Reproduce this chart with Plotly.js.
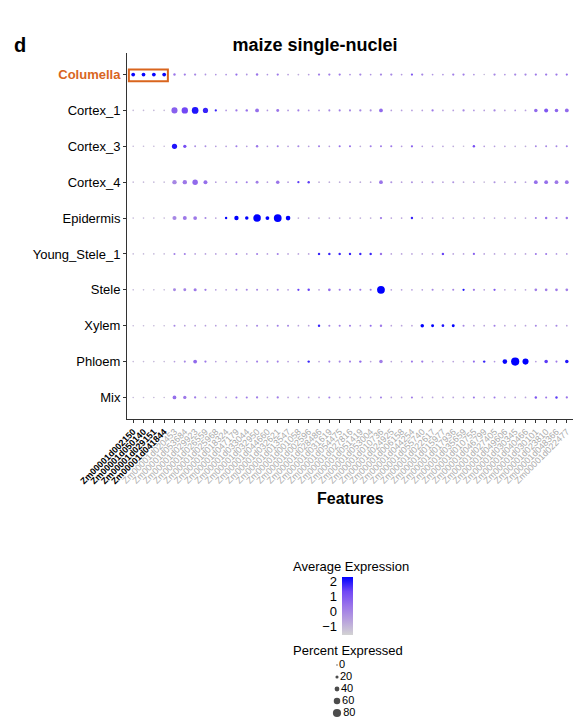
<!DOCTYPE html>
<html>
<head>
<meta charset="utf-8">
<script src="https://cdn.plot.ly/plotly-3.0.1.min.js"></script>
<style>html,body{margin:0;padding:0;background:#fff}#chart{width:575px;height:718px}</style>
</head>
<body>
<div id="chart"></div>
<script>
// ---------------- DATA ----------------
const genes = [
  "Zm00001d002150","Zm00001d050140","Zm00001d029151","Zm00001d041844",
  "Zm00001d020453","Zm00001d053684","Zm00001d029923","Zm00001d026559","Zm00001d025968",
  "Zm00001d018324","Zm00001d047179","Zm00001d033044","Zm00001d032950","Zm00001d044660",
  "Zm00001d032621","Zm00001d013547","Zm00001d001058","Zm00001d002596","Zm00001d028486",
  "Zm00001d031619","Zm00001d054475","Zm00001d027816","Zm00001d051419","Zm00001d053004",
  "Zm00001d010736","Zm00001d024925","Zm00001d006158","Zm00001d044254","Zm00001d055740",
  "Zm00001d022617","Zm00001d015977","Zm00001d017936","Zm00001d035659","Zm00001d010755",
  "Zm00001d046799","Zm00001d027405","Zm00001d049606","Zm00001d030345","Zm00001d040466",
  "Zm00001d030101","Zm00001d023810","Zm00001d048366","Zm00001d022477"
];
const highlightGenes = ["Zm00001d002150","Zm00001d050140","Zm00001d029151","Zm00001d041844"];
const clusters = ["Columella","Cortex_1","Cortex_3","Cortex_4","Epidermis","Young_Stele_1","Stele","Xylem","Phloem","Mix"];
const highlightCluster = "Columella";

// Percent expressed per cluster (one value per gene, in order)
const pct_Columella = [28,28,28,28,12,10,10,5,4,4, 10,5,12,4,10,4,4,4,10,10, 10,4,10,4,10,10,4,10,10,4, 4,10,10,4,3,10,4,10,10,10, 10,10,10];
const pct_Cortex_1 = [3,3,3,3,55,58,62,45,10,4, 10,12,28,4,18,4,8,4,4,8, 8,8,10,8,28,4,4,4,4,10, 4,4,10,4,4,10,4,4,4,25, 30,25,28];
const pct_Cortex_3 = [3,3,3,3,45,22,6,6,4,4, 8,4,12,4,8,4,8,4,8,4, 8,8,4,8,8,8,4,10,4,4, 4,4,3,12,4,4,4,4,4,6, 6,6,8];
const pct_Cortex_4 = [3,3,3,3,35,35,48,30,4,4, 8,8,18,4,25,4,10,12,4,4, 4,4,4,4,28,8,4,8,4,8, 4,8,4,4,3,8,4,8,4,28, 28,28,28];
const pct_Epidermis = [3,3,3,3,32,30,28,8,4,12, 35,25,72,28,75,38,4,4,4,4, 4,4,4,4,10,4,4,12,4,4, 4,4,4,4,4,4,4,4,4,8, 12,8,12];
const pct_Young_Stele_1 = [3,3,3,3,8,8,4,4,4,4, 8,4,8,4,8,4,4,4,12,12, 12,12,12,12,12,4,4,4,4,4, 12,4,4,10,4,4,4,4,4,8, 8,4,4];
const pct_Stele = [3,3,3,3,18,18,20,10,4,4, 8,8,8,4,8,4,10,12,4,15, 8,8,8,8,75,4,4,4,4,8, 4,8,10,10,4,10,4,4,4,15, 15,15,15];
const pct_Xylem = [3,3,3,3,8,4,4,4,4,4, 4,4,8,4,8,8,4,4,12,8, 8,8,4,8,12,4,4,4,25,18, 15,18,8,4,4,8,4,4,4,8, 4,8,4];
const pct_Phloem = [3,3,3,3,4,8,28,10,4,4, 4,4,8,8,8,4,4,12,4,8, 8,8,12,4,25,4,4,8,10,4, 4,4,4,8,12,4,38,80,55,4, 25,8,25];
const pct_Mix = [3,3,3,3,28,22,10,4,4,4, 8,8,10,4,10,4,4,4,4,8, 4,4,4,4,8,4,4,8,4,4, 4,4,4,8,4,8,4,4,4,12, 8,12,10];

// Average (scaled) expression per cluster
const avg_Columella = [2.2,2.2,2.2,2.2,0.3,0.2,0.0,-0.3,-0.3,-0.2, 0.5,-0.3,0.4,-0.3,0.3,-0.5,-0.8,-0.5,0.2,0.2, 0.3,-0.2,0.0,-0.3,0.0,0.0,-0.4,1.0,0.0,-0.3, -0.3,0.2,0.2,-0.3,-1.0,0.0,-0.3,0.0,0.0,0.3, 0.3,0.3,0.5];
const avg_Cortex_1 = [-1.0,-1.0,-1.0,-1.0,0.8,1.3,2.0,1.8,1.8,-0.3, 0.3,0.5,0.5,-0.3,0.4,-0.3,0.2,-0.3,-0.3,0.0, 0.2,0.0,0.0,-0.2,0.6,-0.5,-0.5,-0.5,-0.5,0.3, -0.5,-0.5,0.0,-0.3,-0.5,0.0,-0.5,-0.3,-0.5,0.6, 1.0,0.7,0.6];
const avg_Cortex_3 = [-1.0,-1.0,-1.0,-1.0,2.0,1.2,-0.2,-0.2,-0.5,-0.5, 0.2,-0.5,0.4,-0.5,0.2,-0.5,0.0,-0.5,0.2,-0.5, 0.5,0.5,-0.8,0.2,0.2,0.3,-0.5,0.8,-0.5,-0.5, -0.6,-0.8,-1.0,1.2,-0.5,-0.5,-0.6,-0.8,-0.8,0.0, 0.0,0.0,0.2];
const avg_Cortex_4 = [-1.0,-1.0,-1.0,-1.0,0.0,0.3,0.6,0.5,-0.5,-0.5, 0.2,0.2,0.2,-0.5,0.4,-0.5,1.5,1.5,-0.8,-0.8, -0.8,-0.6,-0.8,-0.6,0.4,-0.3,-0.6,-0.3,-0.6,-0.3, -0.6,-0.3,-0.8,-0.6,-1.0,-0.3,-0.6,-0.3,-0.6,0.5, 0.5,0.3,0.4];
const avg_Epidermis = [-1.0,-1.0,-1.0,-1.0,0.0,0.3,0.3,0.0,-0.6,2.2, 2.3,2.3,2.3,2.3,2.3,2.3,-0.8,-0.8,-0.8,-0.8, -0.8,-0.8,-0.8,-0.8,0.3,-0.6,-0.6,1.8,-0.7,-0.7, -0.7,-0.7,-0.7,-0.7,-0.7,-0.7,-0.7,-0.7,-0.7,0.2, 0.5,0.2,0.4];
const avg_Young_Stele_1 = [-1.0,-1.0,-1.0,-1.0,0.2,0.2,-0.5,-0.5,-0.5,-0.5, 0.2,-0.5,0.2,-0.5,0.2,-0.6,-0.6,-0.6,1.8,1.8, 1.8,1.8,1.8,1.8,0.4,-0.6,-0.6,-0.6,-0.6,-0.6, 1.4,-0.6,-0.6,0.8,-0.6,-0.6,-0.6,-0.6,-0.6,0.3, 0.3,-0.3,-0.3];
const avg_Stele = [-1.0,-1.0,-1.0,-1.0,0.0,0.1,0.3,0.2,-0.5,-0.5, 0.0,0.0,0.0,-0.5,0.2,-0.5,1.4,1.4,-0.5,0.6, 0.3,0.3,0.3,0.3,2.3,-0.5,-0.5,-0.5,-0.5,0.0, -0.5,0.0,2.0,0.3,-0.5,1.0,-0.6,-0.6,-0.6,0.2, 0.2,0.3,0.2];
const avg_Xylem = [-1.0,-1.0,-1.0,-1.0,0.0,-0.5,-0.5,-0.5,-0.5,-0.5, -0.5,-0.5,0.0,-0.5,0.2,0.0,-0.6,-0.6,1.8,0.0, 0.2,0.2,-0.5,0.6,0.3,-0.6,-0.6,-0.6,2.3,2.3, 2.0,2.3,0.0,-0.6,-0.6,0.2,-0.6,-0.6,-0.6,0.0, -0.6,0.0,-0.6];
const avg_Phloem = [-1.0,-1.0,-1.0,-1.0,-0.5,0.0,0.6,0.3,-0.5,-0.5, -0.5,-0.5,0.2,0.0,0.2,-0.5,-0.5,1.8,-0.6,0.2, 0.0,0.2,0.6,-0.6,0.2,-0.6,-0.6,0.4,0.3,-0.6, -0.6,-0.6,-0.6,0.6,1.8,-0.3,2.2,2.3,2.3,-0.5, 1.5,0.3,2.0];
const avg_Mix = [-1.0,-1.0,-1.0,-1.0,0.5,0.3,0.2,-0.5,-0.5,-0.5, 0.2,0.2,0.2,-0.5,0.2,-0.6,-0.6,-0.6,-0.6,0.2, -0.6,-0.6,-0.6,-0.6,0.2,-0.6,-0.6,0.3,-0.6,-0.6, -0.6,-0.6,-0.6,0.4,-0.6,0.3,-0.6,-0.6,-0.6,1.0, 0.3,1.5,0.4];

const colorTicks = [2, 1, 0, -1];
const sizeLegendValues = [0, 20, 40, 60, 80];

// ---------------- BUILD ----------------
const pctRows = [pct_Columella,pct_Cortex_1,pct_Cortex_3,pct_Cortex_4,pct_Epidermis,pct_Young_Stele_1,pct_Stele,pct_Xylem,pct_Phloem,pct_Mix];
const avgRows = [avg_Columella,avg_Cortex_1,avg_Cortex_3,avg_Cortex_4,avg_Epidermis,avg_Young_Stele_1,avg_Stele,avg_Xylem,avg_Phloem,avg_Mix];

const W = 575, H = 718;
const px = v => v / W;           // pixel -> paper x
const py = v => 1 - v / H;       // pixel -> paper y
const sizeOf = p => 1.4 + p * 0.085;   // radius-like size scale (diameter px)
const CMIN = -1.53, CMAX = 2.27;
const cscale = [[0,'#D3D3D3'],[0.25,'#B8A2DD'],[0.5,'#9B75E9'],[0.75,'#7147F5'],[1,'#0000FF']];
const FONT = 'Liberation Sans, Arial, Helvetica, sans-serif';

const xs = [], ys = [], ss = [], cs = [];
clusters.forEach((cl, r) => {
  genes.forEach((g, c) => {
    xs.push(g); ys.push(cl);
    ss.push(sizeOf(pctRows[r][c]));
    cs.push(avgRows[r][c]);
  });
});

const dots = {
  type: 'scatter', mode: 'markers', x: xs, y: ys,
  xaxis: 'x', yaxis: 'y',
  marker: {
    size: ss, sizemode: 'diameter', color: cs, colorscale: cscale,
    cmin: CMIN, cmax: CMAX, line: {width: 0}, opacity: 1,
    showscale: true,
    colorbar: {
      x: px(342), xanchor: 'left', xpad: 0,
      y: py(577), yanchor: 'top', ypad: 0,
      len: 58, lenmode: 'pixels', thickness: 11, thicknessmode: 'pixels',
      outlinewidth: 0, showticklabels: false, ticks: ''
    }
  },
  hoverinfo: 'skip', showlegend: false
};

// helper trace so the colour-key axis (tick labels on the left) is drawn
const cbAxisTrace = {
  type: 'scatter', mode: 'markers', x: [0], y: [colorTicks[0]],
  xaxis: 'x2', yaxis: 'y2', marker: {opacity: 0}, hoverinfo: 'skip', showlegend: false
};

const sizeKey = {
  type: 'scatter', mode: 'markers+text',
  x: sizeLegendValues.map(() => 0), y: sizeLegendValues,
  text: sizeLegendValues.map(String), textposition: 'middle right',
  textfont: {family: FONT, size: 11, color: '#000'},
  xaxis: 'x3', yaxis: 'y3',
  marker: {size: sizeLegendValues.map(sizeOf), color: '#000', line: {width: 0}},
  hoverinfo: 'skip', showlegend: false, cliponaxis: false
};

const xTickText = genes.map(g => highlightGenes.includes(g)
  ? '<span style="color:#000000"><b>' + g + '</b></span>' : g);
const yTickText = clusters.map(c => c === highlightCluster
  ? '<span style="color:#D9651E"><b>' + c + '</b></span>' : c);

const layout = {
  width: W, height: H,
  margin: {l: 0, r: 0, t: 0, b: 0},
  paper_bgcolor: '#fff', plot_bgcolor: '#fff',
  font: {family: FONT, color: '#000'},
  showlegend: false,
  title: {text: '<b>maize single-nuclei</b>', x: px(315), xref: 'paper', xanchor: 'center',
          y: py(45), yref: 'container', yanchor: 'middle', font: {size: 18, color: '#000', family: FONT}},
  xaxis: {
    domain: [px(127), px(573)], type: 'category', range: [-0.6, genes.length - 0.4],
    tickmode: 'array', tickvals: genes, ticktext: xTickText, tickangle: -45,
    tickfont: {size: 9, color: '#ABABAB', family: FONT},
    ticks: 'outside', ticklen: 3, tickcolor: '#333', tickwidth: 1,
    showline: true, linecolor: '#333', linewidth: 1, showgrid: false, zeroline: false,
    anchor: 'y', automargin: false, fixedrange: true
  },
  yaxis: {
    domain: [py(419), py(53)], type: 'category', range: [clusters.length - 0.4, -0.6],
    tickmode: 'array', tickvals: clusters, ticktext: yTickText,
    tickfont: {size: 13, color: '#000', family: FONT},
    ticks: 'outside', ticklen: 3, tickcolor: '#333', tickwidth: 1,
    showline: true, linecolor: '#333', linewidth: 1, showgrid: false, zeroline: false,
    anchor: 'x', automargin: false, fixedrange: true
  },
  xaxis2: {domain: [px(342), px(353)], range: [-1, 1], visible: false, anchor: 'y2', fixedrange: true},
  yaxis2: {
    domain: [py(635), py(577)], range: [CMIN, CMAX], anchor: 'x2',
    tickmode: 'array', tickvals: colorTicks, ticktext: colorTicks.map(v => v < 0 ? '\u2212' + Math.abs(v) : String(v)),
    ticks: '', showline: false, showgrid: false, zeroline: false, ticklabelstandoff: 4,
    tickfont: {size: 13, color: '#000', family: FONT}, fixedrange: true
  },
  xaxis3: {domain: [px(330), px(380)], range: [-1.4, 8.6], visible: false, anchor: 'y3', fixedrange: true},
  yaxis3: {domain: [py(717.8), py(660.2)], range: [88, -8], visible: false, anchor: 'x3', fixedrange: true},
  shapes: [{
    type: 'rect', xref: 'x', yref: 'y',
    x0: -0.42, x1: 3.36, y0: -0.14, y1: 0.19,
    line: {color: '#D9651E', width: 2}, fillcolor: 'rgba(0,0,0,0)'
  }],
  annotations: [
    {text: '<b>d</b>', x: px(12), y: py(45), xref: 'paper', yref: 'paper', xanchor: 'left', yanchor: 'middle',
     showarrow: false, font: {size: 20, color: '#000', family: FONT}},
    {text: '<b>Features</b>', x: px(350), y: py(498), xref: 'paper', yref: 'paper', xanchor: 'center', yanchor: 'middle',
     showarrow: false, font: {size: 16, color: '#000', family: FONT}},
    {text: 'Average Expression', x: px(291), y: py(566), xref: 'paper', yref: 'paper', xanchor: 'left', yanchor: 'middle',
     showarrow: false, font: {size: 13, color: '#000', family: FONT}},
    {text: 'Percent Expressed', x: px(291), y: py(650), xref: 'paper', yref: 'paper', xanchor: 'left', yanchor: 'middle',
     showarrow: false, font: {size: 13, color: '#000', family: FONT}}
  ]
};

Plotly.newPlot('chart', [dots, cbAxisTrace, sizeKey], layout, {displayModeBar: false, staticPlot: true});
</script>
</body>
</html>
